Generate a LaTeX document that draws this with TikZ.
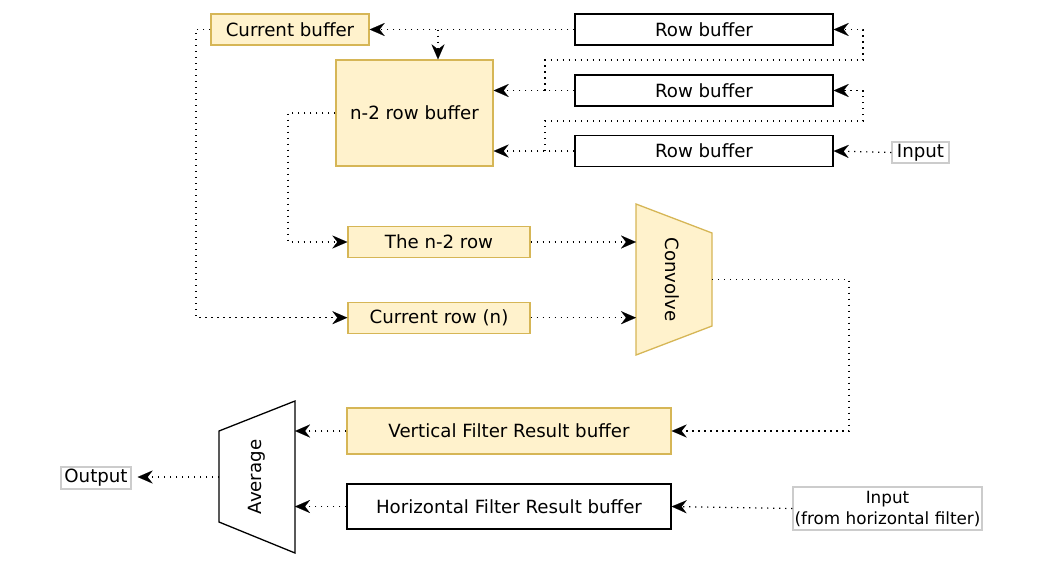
\documentclass[tikz,border=0pt]{standalone}
\usepackage{fontspec}
\setmainfont{DejaVu Sans}
\usetikzlibrary{arrows.meta}
\definecolor{yfill}{HTML}{FFF2CC}
\definecolor{ystroke}{HTML}{D6B656}
\definecolor{gstroke}{HTML}{CCCCCC}
\begin{document}
\begin{tikzpicture}[x=1pt,y=-1pt,
  lbl/.style={font=\fontsize{18.2}{21}\selectfont},
  ybox/.style={draw=ystroke,fill=yfill,line width=1.3pt,lbl,inner sep=0pt},
  wbox/.style={draw=black,fill=white,line width=1.3pt,lbl,inner sep=0pt},
  gbox/.style={draw=gstroke,line width=1.3pt,lbl,inner sep=0pt,align=center},
  link/.style={line width=1.2pt,dash pattern=on 1.2pt off 4.8pt,-{Stealth[length=15pt,width=13pt,inset=5pt,line width=0.1pt]}},
  trap/.style={line width=1.3pt,line join=miter}]
\useasboundingbox (0,0) rectangle (1043,568);
% top row
\node[ybox,minimum width=158pt,minimum height=31pt] (cb) at (290,29.5) {Current buffer};
\node[wbox,minimum width=258pt,minimum height=31pt] (rb1) at (704,29.5) {Row buffer};
\node[wbox,minimum width=258pt,minimum height=31pt] (rb2) at (704,90.5) {Row buffer};
\node[wbox,minimum width=258pt,minimum height=31pt] (rb3) at (704,151) {Row buffer};
\node[ybox,minimum width=157pt,minimum height=106pt] (n2b) at (414.5,113) {n-2 row buffer};
\node[gbox,minimum width=57pt,minimum height=21pt] (in1) at (920.5,152.5) {Input};
% middle
\node[ybox,minimum width=182pt,minimum height=31pt] (n2r) at (439,242) {The n-2 row};
\node[ybox,minimum width=182pt,minimum height=31pt] (cr) at (439,317.7) {Current row (n)};
\draw[trap,draw=ystroke,fill=yfill] (636,204) -- (712,233) -- (712,326) -- (636,355) -- cycle;
\node[lbl,rotate=-90] (cv) at (672,279.5) {Convolve};
\coordinate (cvl) at (636,279.5);
\coordinate (cvout) at (712,279.5);
% bottom
\node[ybox,minimum width=324pt,minimum height=46pt] (vfr) at (509,431) {Vertical Filter Result buffer};
\node[wbox,minimum width=324pt,minimum height=45pt] (hfr) at (509,506.5) {Horizontal Filter Result buffer};
\node[gbox,minimum width=189pt,minimum height=43pt,font=\fontsize{16.8}{21}\selectfont] (in2) at (887.5,508.5) {Input\\(from horizontal filter)};
\draw[trap,draw=black,fill=white] (219,431) -- (295,401) -- (295,553) -- (219,522) -- cycle;
\node[lbl,rotate=90] (av) at (257,477) {Average};
\coordinate (avr) at (295,477);
\coordinate (avl) at (219,477);
\node[gbox,minimum width=70pt,minimum height=22pt] (out) at (96,478) {Output};
% connectors
\coordinate (j1) at (438,29.5);
\coordinate (j2) at (545,90.5);
\coordinate (j3) at (545,151);
\draw[link] (rb1.west) -- (cb.east);
\draw[link] (j1) -- (j1 |- n2b.north);
\draw[link] (rb2.west) -- (rb2.west -| n2b.east);
\draw[link] (rb3.west) -- (rb3.west -| n2b.east);
\draw[link] (j2) |- (863,60) |- (rb1.east);
\draw[link] (j3) |- (863,121) |- (rb2.east);
\draw[link] (in1.west) -- (rb3.east);
\draw[link] (n2b.west) -- (288,113) |- (n2r.west);
\draw[link] (cb.west) -- (196,29.5) |- (cr.west);
\draw[link] (n2r.east) -- (n2r.east -| cvl);
\draw[link] (cr.east) -- (cr.east -| cvl);
\draw[link] (cvout) -- (849,279.5) |- (vfr.east);
\draw[link] (vfr.west) -- (vfr.west -| avr);
\draw[link] (hfr.west) -- (hfr.west -| avr);
\draw[link] (in2.west) -- (hfr.east);
\draw[link,shorten >=6pt] (avl) -- (avl -| out.east);
\end{tikzpicture}
\end{document}
